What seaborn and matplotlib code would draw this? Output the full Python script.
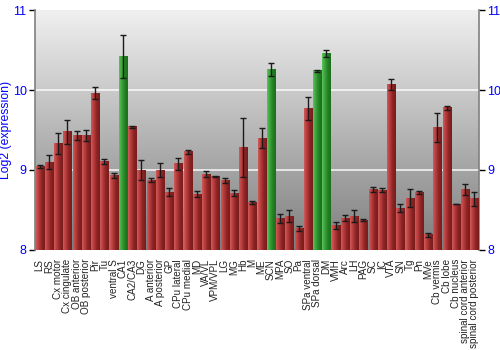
import numpy as np
import pandas as pd
import matplotlib
matplotlib.use("Agg")
import matplotlib.pyplot as plt
from matplotlib import font_manager
import seaborn as sns
from matplotlib.colors import LinearSegmentedColormap

regions = ["LS", "RS", "Cx motor", "Cx cingulate", "OB anterior", "OB posterior", "Pir", "Tu",
           "ventral S", "CA1", "CA2/CA3", "DG", "A anterior", "A posterior", "GP", "CPu lateral",
           "CPu medial", "MD", "VA/VL", "VPM/VPL", "LG", "MG", "Hb", "M", "ME", "SCN", "MPA",
           "SO", "Pa", "SPa ventral", "SPa dorsal", "DM", "VMH", "Arc", "LH", "PAG", "SC", "IC",
           "VTA", "SN", "Tg", "Pn", "MVe", "Cb vermis", "Cb lobe", "Cb nucleus",
           "spinal cord anterior", "spinal cord posterior"]
expression = [9.04, 9.10, 9.33, 9.48, 9.43, 9.43, 9.96, 9.11,
              8.93, 10.425, 9.54, 9.00, 8.87, 9.00, 8.725, 9.08,
              9.23, 8.70, 8.95, 8.92, 8.87, 8.71, 9.28, 8.59, 9.40, 10.26, 8.39,
              8.425, 8.27, 9.77, 10.24, 10.46, 8.31, 8.40, 8.425, 8.375, 8.76, 8.75,
              10.07, 8.525, 8.65, 8.72, 8.19, 9.53, 9.78, 8.575,
              8.76, 8.64]
error = [0.02, 0.085, 0.13, 0.15, 0.06, 0.07, 0.073, 0.03,
         0.03, 0.27, 0.01, 0.13, 0.025, 0.09, 0.05, 0.075,
         0.025, 0.04, 0.035, 0.01, 0.035, 0.035, 0.37, 0.02, 0.13, 0.083, 0.054,
         0.08, 0.03, 0.14, 0.012, 0.044, 0.044, 0.033, 0.08, 0.015, 0.033, 0.02,
         0.063, 0.05, 0.115, 0.017, 0.027, 0.18, 0.025, 0.005,
         0.07, 0.09]
highlight = ["CA1", "SCN", "SPa dorsal", "DM"]

df = pd.DataFrame({"region": regions, "expr": expression, "err": error})
df["group"] = np.where(df["region"].isin(highlight), "hi", "lo")

sns.set_theme(style="white")
plt.rcParams["font.family"] = ["Liberation Sans", "DejaVu Sans"]

available = {f.name for f in font_manager.fontManager.ttflist}
if "Liberation Sans Narrow" in available:
    xfont, xsize = "Liberation Sans Narrow", 8.6
else:
    xfont, xsize = "Liberation Sans", 7.1

fig = plt.figure(figsize=(5, 3.5), dpi=100)
ax = fig.add_axes([0.07, 0.286, 0.888, 0.685])

YMIN, YMAX = 8, 11

# background gradient
bg = LinearSegmentedColormap.from_list("bg", ["#7e7e7e", "#f0f0f0"])
grad = np.linspace(0, 1, 256).reshape(-1, 1)
ax.imshow(grad, aspect="auto", cmap=bg, extent=(-0.5, len(regions) - 0.5, YMIN, YMAX),
          origin="lower", zorder=0)

palette = {"hi": "#3aa03a", "lo": "#b53a3a"}
sns.barplot(data=df, x="region", y="expr", hue="group", palette=palette, dodge=False,
            width=0.88, legend=False, ax=ax, zorder=2, linewidth=0)

# gradient shading on bars
red_cm = LinearSegmentedColormap.from_list("r", ["#d05a5a", "#b53a3a", "#8a2424", "#7a1c1c"])
green_cm = LinearSegmentedColormap.from_list("g", ["#5cc45c", "#3aa03a", "#238023", "#1c6e1c"])
hgrad = np.linspace(0, 1, 64).reshape(1, -1)
for p in list(ax.patches):
    x0, w, h = p.get_x(), p.get_width(), p.get_height()
    top = p.get_y() + h
    fc = p.get_facecolor()
    cm = green_cm if fc[1] > fc[0] else red_cm
    ax.imshow(hgrad, aspect="auto", cmap=cm, extent=(x0, x0 + w, YMIN, top), zorder=3)

ax.errorbar(np.arange(len(regions)), df["expr"], yerr=df["err"], fmt="none",
            ecolor="#1a1a1a", elinewidth=1.0, capsize=2.2, capthick=1.0, zorder=4)

for yv in [9, 10]:
    ax.axhline(yv, color="white", lw=1.2, alpha=0.85, zorder=1.5)

ax.set_xlim(-0.5, len(regions) - 0.5)
ax.set_ylim(YMIN, YMAX)
ax.set_yticks([8, 9, 10, 11])
ax.tick_params(axis="y", which="both", left=True, right=True, labelleft=True, labelright=True,
               direction="out", length=4, width=1, color="black", labelcolor="blue",
               labelsize=9, pad=2)
ax.tick_params(axis="x", bottom=False, pad=0.5, labelcolor="#222222")
ax.set_xticks(np.arange(len(regions)))
ax.set_xticklabels(regions, rotation=90, fontfamily=xfont, fontsize=xsize)
ax.set_xlabel("")
ax.set_ylabel("Log2 (expression)", color="blue", fontsize=8.8)
ax.yaxis.set_label_coords(-0.052, 0.5)

for s in ["top", "bottom"]:
    ax.spines[s].set_visible(False)
for s in ["left", "right"]:
    ax.spines[s].set_visible(True)
    ax.spines[s].set_color("#808080")
    ax.spines[s].set_linewidth(1.2)

fig.savefig("out.png", dpi=100)
